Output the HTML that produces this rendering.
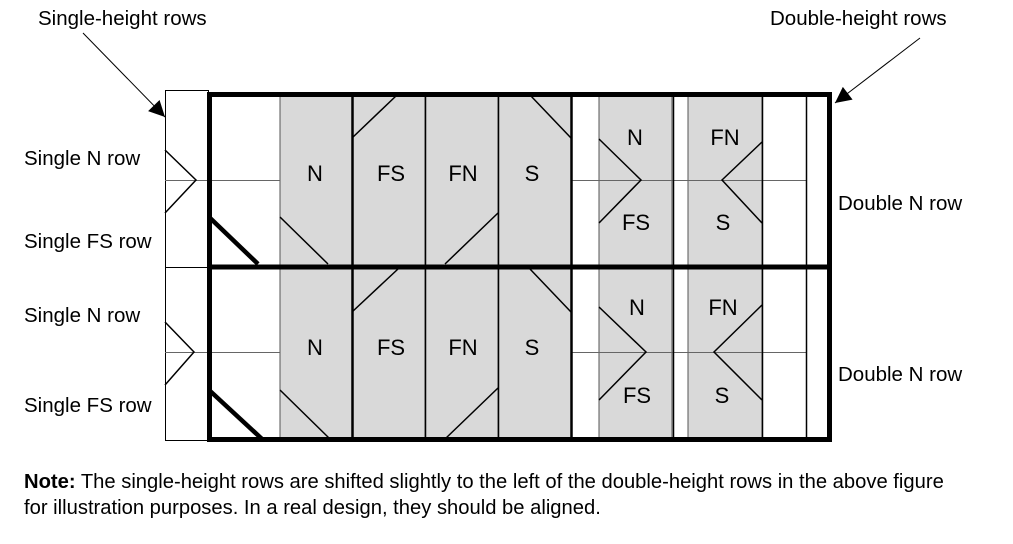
<!DOCTYPE html>
<html><head><meta charset="utf-8"><style>
body{margin:0;background:#fff}
svg text{font-family:"Liberation Sans",Arial,sans-serif;fill:#000}
</style></head><body>
<svg width="1013" height="539" viewBox="0 0 1013 539" xmlns="http://www.w3.org/2000/svg">
<defs>
<marker id="ah2" viewBox="0 0 10 10" markerWidth="20" markerHeight="16" refX="10" refY="5" orient="auto" markerUnits="userSpaceOnUse"><path d="M0,0 L10,5 L0,10 z" fill="#000"/></marker></defs>
<g font-size="20.5">
<text x="38" y="25">Single-height rows</text>
<text x="770" y="25">Double-height rows</text>
<text x="24" y="165">Single N row</text>
<text x="24" y="248">Single FS row</text>
<text x="24" y="322">Single N row</text>
<text x="24" y="412">Single FS row</text>
<text x="838" y="210">Double N row</text>
<text x="838" y="381">Double N row</text>
</g>
<line x1="83" y1="33" x2="165" y2="117" stroke="#000" stroke-width="1" marker-end="url(#ah2)"/>
<line x1="920" y1="38" x2="835" y2="103" stroke="#000" stroke-width="1" marker-end="url(#ah2)"/>
<g fill="#d9d9d9" stroke="#555" stroke-width="1">
<rect x="280" y="95" width="72" height="170"/><rect x="352" y="95" width="73" height="170"/><rect x="425" y="95" width="73" height="170"/><rect x="498" y="95" width="73" height="170"/>
<rect x="280" y="269" width="72" height="170"/><rect x="352" y="269" width="73" height="170"/><rect x="425" y="269" width="73" height="170"/><rect x="498" y="269" width="73" height="170"/>
<rect x="599" y="95" width="73" height="170"/><rect x="688" y="95" width="74" height="170"/>
<rect x="599" y="269" width="73" height="170"/><rect x="688" y="269" width="74" height="170"/>
</g>
<g stroke="#000" stroke-width="1.5" fill="none">
<rect x="165.5" y="90.5" width="43" height="350" stroke-width="1"/>
<line x1="165" y1="180.5" x2="280" y2="180.5" stroke="#666" stroke-width="1"/>
<line x1="165" y1="267.5" x2="280" y2="267.5" stroke-width="1"/>
<line x1="165" y1="352.5" x2="280" y2="352.5" stroke="#666" stroke-width="1"/>
<line x1="572" y1="180.5" x2="806" y2="180.5" stroke="#666" stroke-width="1"/>
<line x1="572" y1="352.5" x2="806" y2="352.5" stroke="#666" stroke-width="1"/>
<line x1="352.5" y1="95" x2="352.5" y2="440" stroke-width="2.5"/>
<line x1="425.5" y1="95" x2="425.5" y2="440"/>
<line x1="498.5" y1="95" x2="498.5" y2="440"/>
<line x1="571.5" y1="95" x2="571.5" y2="440" stroke-width="2.5"/>
<line x1="673.5" y1="95" x2="673.5" y2="440"/>
<line x1="762.5" y1="95" x2="762.5" y2="440"/>
<line x1="806.5" y1="95" x2="806.5" y2="440"/>
<polyline points="165,150 196,180 165,213"/>
<polyline points="165,322 194,352 165,385"/>
<line x1="280" y1="217" x2="328" y2="264"/>
<line x1="352" y1="138" x2="397" y2="95"/>
<line x1="445" y1="264" x2="498" y2="213"/>
<line x1="530" y1="95" x2="571" y2="138"/>
<line x1="280" y1="390" x2="330" y2="439"/>
<line x1="352" y1="312" x2="398" y2="269"/>
<line x1="445" y1="439" x2="498" y2="388"/>
<line x1="530" y1="269" x2="571" y2="312"/>
<polyline points="599,139 641,180 599,223"/>
<polyline points="762,142 722,180 762,223"/>
<polyline points="599,307 646,352 599,400"/>
<polyline points="762,305 714,352 762,400"/>
</g>
<g stroke="#000" stroke-width="5" fill="none">
<rect x="209.5" y="94.5" width="620" height="345"/>
<line x1="209" y1="267" x2="830" y2="267"/>
<line x1="209" y1="217" x2="258" y2="264" stroke-width="4.5"/>
<line x1="209" y1="390" x2="262" y2="439" stroke-width="4.5"/>
</g>
<g font-size="22" text-anchor="middle">
<text x="315" y="181">N</text><text x="391" y="181">FS</text><text x="463" y="181">FN</text><text x="532" y="181">S</text>
<text x="315" y="355">N</text><text x="391" y="355">FS</text><text x="463" y="355">FN</text><text x="532" y="355">S</text>
<text x="635" y="145">N</text><text x="636" y="230">FS</text><text x="725" y="145">FN</text><text x="723" y="230">S</text>
<text x="637" y="315">N</text><text x="637" y="403">FS</text><text x="723" y="315">FN</text><text x="722" y="403">S</text>
</g>
<g font-size="20.2">
<text x="24" y="488"><tspan font-weight="bold">Note:</tspan> The single-height rows are shifted slightly to the left of the double-height rows in the above figure</text>
<text x="24" y="514">for illustration purposes. In a real design, they should be aligned.</text>
</g>
</svg>
</body></html>
